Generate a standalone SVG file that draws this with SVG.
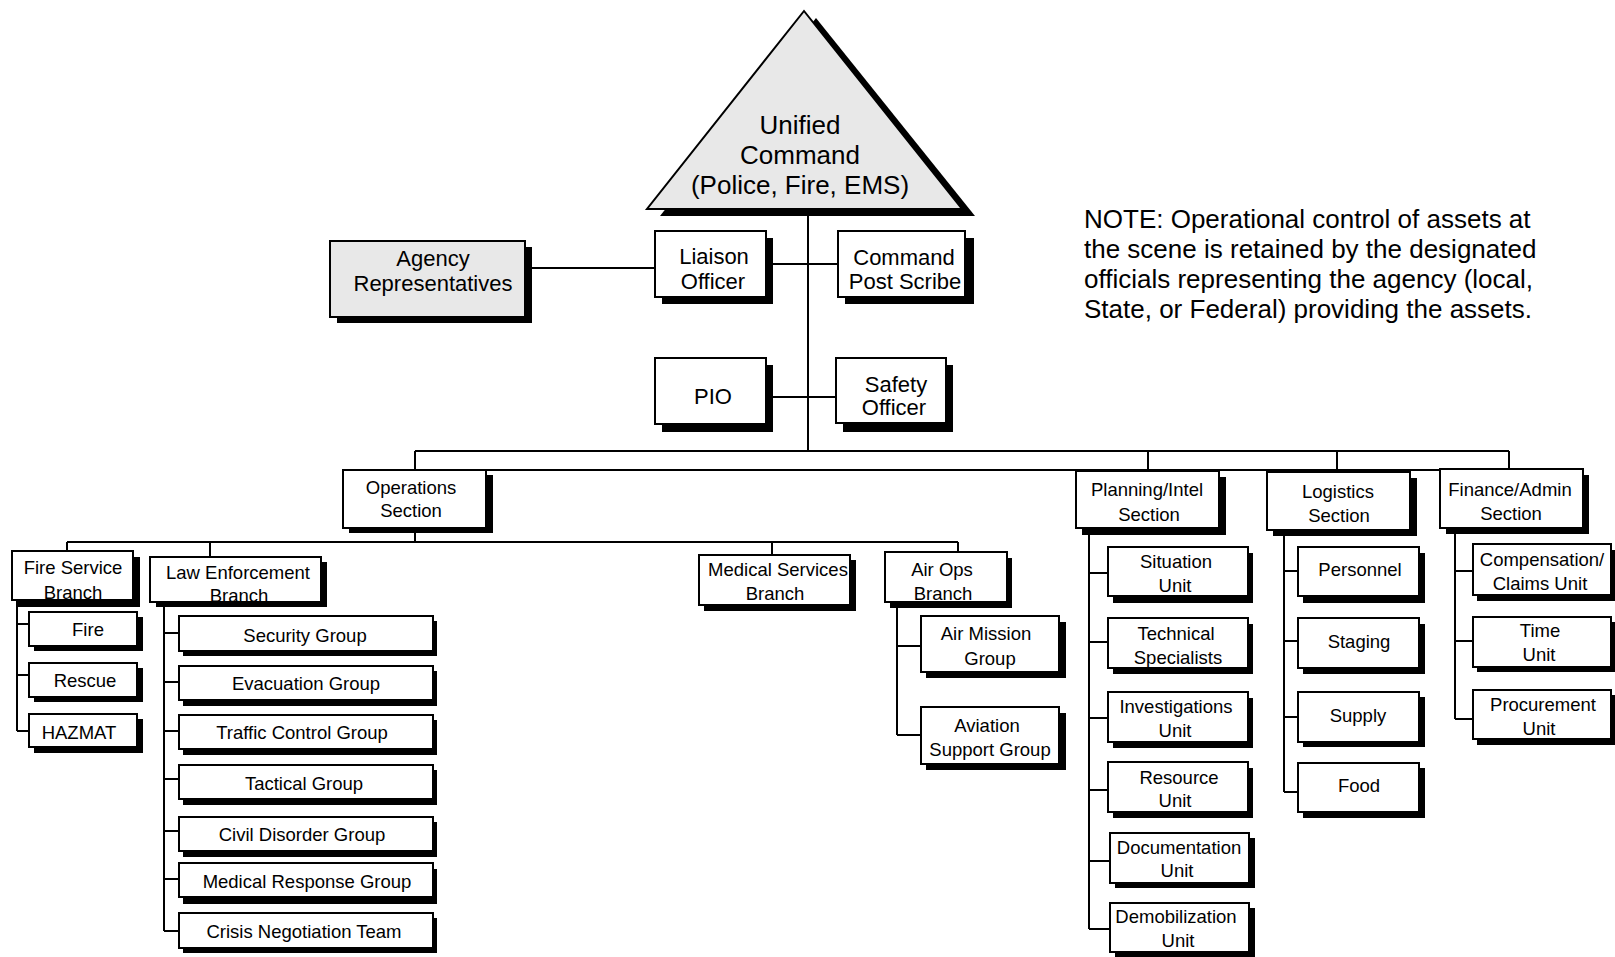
<svg xmlns="http://www.w3.org/2000/svg" width="1615" height="957" viewBox="0 0 1615 957">
<style>
text{font-family:"Liberation Sans",Arial,sans-serif;fill:#000;text-anchor:middle}
.t26{font-size:26px}
.t22{font-size:22px}
.t18{font-size:18.5px}
.note{font-size:26px;text-anchor:start}
.sh{fill:#000}
.bx{fill:#fff;stroke:#000;stroke-width:2}
.gbx{fill:#e8e8e8;stroke:#000;stroke-width:2}
.ln{fill:none;stroke:#000;stroke-width:2}
</style>
<rect width="1615" height="957" fill="#fff"/>
<g id="connectors">
<path class="ln" d="M808 209V451M415 451H1509M415 451V470M1148 451V471M1337 451V472M1509 451V470M486 470H1440"/>
<path class="ln" d="M525 268H655M766 264H838M766 397H836"/>
<path class="ln" d="M415 528V542M67 542H958M67 542V551M210 542V557M772 542V555M958 542V552"/>
<path class="ln" d="M17 600V731M17 624H29M17 675H29M17 731H29"/>
<path class="ln" d="M164 602V931M164 633H179M164 682H179M164 731H179M164 779H179M164 831H179M164 879H179M164 931H179"/>
<path class="ln" d="M897 602V735M897 646H921M897 735H921"/>
<path class="ln" d="M1089 528V929M1089 573H1108M1089 642H1108M1089 718H1108M1089 790H1108M1089 861H1110M1089 929H1110"/>
<path class="ln" d="M1284 530V792M1284 571H1298M1284 641H1298M1284 717H1298M1284 792H1298"/>
<path class="ln" d="M1455 528V719M1455 571H1473M1455 641H1473M1455 719H1473"/>
</g>
<g id="unified-command">
<polygon class="sh" points="816,18 660,216 975,216"/>
<polygon class="gbx" points="804,11 647,209 962,209"/>
<text class="t26" x="800" y="134">Unified</text>
<text class="t26" x="800" y="164">Command</text>
<text class="t26" x="800" y="194">(Police, Fire, EMS)</text>
</g>
<g id="note">
<text class="note" x="1084" y="228">NOTE: Operational control of assets at</text>
<text class="note" x="1084" y="258">the scene is retained by the designated</text>
<text class="note" x="1084" y="288">officials representing the agency (local,</text>
<text class="note" x="1084" y="318">State, or Federal) providing the assets.</text>
</g>
<g id="agency-representatives">
<rect class="sh" x="337" y="247" width="195" height="76"/>
<rect class="gbx" x="330" y="241" width="195" height="76"/>
<text class="t22" x="433" y="266">Agency</text>
<text class="t22" x="433" y="291">Representatives</text>
</g>
<g id="liaison-officer">
<rect class="sh" x="662" y="238" width="111" height="66"/>
<rect class="bx" x="655" y="231" width="111" height="66"/>
<text class="t22" x="714" y="264">Liaison</text>
<text class="t22" x="713" y="289">Officer</text>
</g>
<g id="command-post-scribe">
<rect class="sh" x="845" y="238" width="129" height="66"/>
<rect class="bx" x="838" y="231" width="127" height="66"/>
<text class="t22" x="904" y="265">Command</text>
<text class="t22" x="905" y="289">Post Scribe</text>
</g>
<g id="pio">
<rect class="sh" x="662" y="365" width="111" height="67"/>
<rect class="bx" x="655" y="358" width="111" height="66"/>
<text class="t22" x="713" y="404">PIO</text>
</g>
<g id="safety-officer">
<rect class="sh" x="843" y="365" width="110" height="67"/>
<rect class="bx" x="836" y="358" width="110" height="65"/>
<text class="t22" x="896" y="392">Safety</text>
<text class="t22" x="894" y="415">Officer</text>
</g>
<g id="operations-section">
<rect class="sh" x="349" y="475" width="144" height="58"/>
<rect class="bx" x="343" y="470" width="143" height="58"/>
<text class="t18" x="411" y="494">Operations</text>
<text class="t18" x="411" y="517">Section</text>
</g>
<g id="planning-intel-section">
<rect class="sh" x="1082" y="477" width="144" height="58"/>
<rect class="bx" x="1076" y="471" width="143" height="57"/>
<text class="t18" x="1147" y="496">Planning/Intel</text>
<text class="t18" x="1149" y="521">Section</text>
</g>
<g id="logistics-section">
<rect class="sh" x="1273" y="478" width="144" height="58"/>
<rect class="bx" x="1267" y="472" width="143" height="58"/>
<text class="t18" x="1338" y="498">Logistics</text>
<text class="t18" x="1339" y="522">Section</text>
</g>
<g id="finance-admin-section">
<rect class="sh" x="1446" y="475" width="143" height="59"/>
<rect class="bx" x="1440" y="469" width="143" height="59"/>
<text class="t18" x="1510" y="496">Finance/Admin</text>
<text class="t18" x="1511" y="520">Section</text>
</g>
<g id="fire-service-branch">
<rect class="sh" x="17" y="557" width="123" height="50"/>
<rect class="bx" x="12" y="551" width="121" height="49"/>
<text class="t18" x="73" y="574">Fire Service</text>
<text class="t18" x="73" y="599">Branch</text>
</g>
<g id="law-enforcement-branch">
<rect class="sh" x="156" y="562" width="171" height="45"/>
<rect class="bx" x="150" y="557" width="171" height="45"/>
<text class="t18" x="238" y="579">Law Enforcement</text>
<text class="t18" x="239" y="602">Branch</text>
</g>
<g id="medical-services-branch">
<rect class="sh" x="704" y="560" width="152" height="51"/>
<rect class="bx" x="699" y="555" width="151" height="50"/>
<text class="t18" x="778" y="576">Medical Services</text>
<text class="t18" x="775" y="600">Branch</text>
</g>
<g id="air-ops-branch">
<rect class="sh" x="890" y="558" width="122" height="50"/>
<rect class="bx" x="885" y="552" width="122" height="50"/>
<text class="t18" x="942" y="576">Air Ops</text>
<text class="t18" x="943" y="600">Branch</text>
</g>
<g id="fire">
<rect class="sh" x="34" y="617" width="109" height="34"/>
<rect class="bx" x="29" y="612" width="108" height="34"/>
<text class="t18" x="88" y="636">Fire</text>
</g>
<g id="rescue">
<rect class="sh" x="34" y="668" width="109" height="34"/>
<rect class="bx" x="29" y="663" width="108" height="34"/>
<text class="t18" x="85" y="687">Rescue</text>
</g>
<g id="hazmat">
<rect class="sh" x="34" y="719" width="109" height="34"/>
<rect class="bx" x="29" y="714" width="108" height="33"/>
<text class="t18" x="79" y="739">HAZMAT</text>
</g>
<g id="security-group">
<rect class="sh" x="183" y="621" width="254" height="35"/>
<rect class="bx" x="179" y="616" width="254" height="35"/>
<text class="t18" x="305" y="642">Security Group</text>
</g>
<g id="evacuation-group">
<rect class="sh" x="183" y="671" width="254" height="35"/>
<rect class="bx" x="179" y="666" width="254" height="34"/>
<text class="t18" x="306" y="690">Evacuation Group</text>
</g>
<g id="traffic-control-group">
<rect class="sh" x="183" y="720" width="254" height="35"/>
<rect class="bx" x="179" y="715" width="254" height="34"/>
<text class="t18" x="302" y="739">Traffic Control Group</text>
</g>
<g id="tactical-group">
<rect class="sh" x="183" y="770" width="254" height="35"/>
<rect class="bx" x="179" y="765" width="254" height="34"/>
<text class="t18" x="304" y="790">Tactical Group</text>
</g>
<g id="civil-disorder-group">
<rect class="sh" x="183" y="822" width="254" height="35"/>
<rect class="bx" x="179" y="817" width="254" height="34"/>
<text class="t18" x="302" y="841">Civil Disorder Group</text>
</g>
<g id="medical-response-group">
<rect class="sh" x="183" y="869" width="254" height="35"/>
<rect class="bx" x="179" y="863" width="254" height="34"/>
<text class="t18" x="307" y="888">Medical Response Group</text>
</g>
<g id="crisis-negotiation-team">
<rect class="sh" x="183" y="918" width="254" height="35"/>
<rect class="bx" x="179" y="913" width="254" height="35"/>
<text class="t18" x="304" y="938">Crisis Negotiation Team</text>
</g>
<g id="air-mission-group">
<rect class="sh" x="926" y="622" width="140" height="56"/>
<rect class="bx" x="921" y="616" width="138" height="56"/>
<text class="t18" x="986" y="640">Air Mission</text>
<text class="t18" x="990" y="665">Group</text>
</g>
<g id="aviation-support-group">
<rect class="sh" x="926" y="713" width="140" height="57"/>
<rect class="bx" x="921" y="707" width="138" height="57"/>
<text class="t18" x="987" y="732">Aviation</text>
<text class="t18" x="990" y="756">Support Group</text>
</g>
<g id="situation-unit">
<rect class="sh" x="1113" y="553" width="140" height="50"/>
<rect class="bx" x="1108" y="547" width="140" height="49"/>
<text class="t18" x="1176" y="568">Situation</text>
<text class="t18" x="1175" y="592">Unit</text>
</g>
<g id="technical-specialists">
<rect class="sh" x="1113" y="624" width="140" height="50"/>
<rect class="bx" x="1108" y="618" width="140" height="50"/>
<text class="t18" x="1176" y="640">Technical</text>
<text class="t18" x="1178" y="664">Specialists</text>
</g>
<g id="investigations-unit">
<rect class="sh" x="1113" y="698" width="140" height="50"/>
<rect class="bx" x="1108" y="692" width="140" height="50"/>
<text class="t18" x="1176" y="713">Investigations</text>
<text class="t18" x="1175" y="737">Unit</text>
</g>
<g id="resource-unit">
<rect class="sh" x="1113" y="768" width="140" height="50"/>
<rect class="bx" x="1108" y="762" width="140" height="50"/>
<text class="t18" x="1179" y="784">Resource</text>
<text class="t18" x="1175" y="807">Unit</text>
</g>
<g id="documentation-unit">
<rect class="sh" x="1115" y="838" width="140" height="50"/>
<rect class="bx" x="1110" y="833" width="139" height="50"/>
<text class="t18" x="1179" y="854">Documentation</text>
<text class="t18" x="1177" y="877">Unit</text>
</g>
<g id="demobilization-unit">
<rect class="sh" x="1115" y="908" width="140" height="50"/>
<rect class="bx" x="1110" y="903" width="139" height="49"/>
<text class="t18" x="1176" y="923">Demobilization</text>
<text class="t18" x="1178" y="947">Unit</text>
</g>
<g id="personnel">
<rect class="sh" x="1303" y="553" width="122" height="50"/>
<rect class="bx" x="1298" y="547" width="121" height="49"/>
<text class="t18" x="1360" y="576">Personnel</text>
</g>
<g id="staging">
<rect class="sh" x="1303" y="624" width="122" height="50"/>
<rect class="bx" x="1298" y="618" width="121" height="50"/>
<text class="t18" x="1359" y="648">Staging</text>
</g>
<g id="supply">
<rect class="sh" x="1303" y="697" width="122" height="50"/>
<rect class="bx" x="1298" y="692" width="121" height="50"/>
<text class="t18" x="1358" y="722">Supply</text>
</g>
<g id="food">
<rect class="sh" x="1303" y="768" width="122" height="50"/>
<rect class="bx" x="1298" y="763" width="121" height="49"/>
<text class="t18" x="1359" y="792">Food</text>
</g>
<g id="compensation-claims-unit">
<rect class="sh" x="1477" y="550" width="138" height="51"/>
<rect class="bx" x="1473" y="544" width="138" height="51"/>
<text class="t18" x="1542" y="566">Compensation/</text>
<text class="t18" x="1540" y="590">Claims Unit</text>
</g>
<g id="time-unit">
<rect class="sh" x="1477" y="622" width="138" height="50"/>
<rect class="bx" x="1473" y="617" width="138" height="50"/>
<text class="t18" x="1540" y="637">Time</text>
<text class="t18" x="1539" y="661">Unit</text>
</g>
<g id="procurement-unit">
<rect class="sh" x="1477" y="695" width="138" height="50"/>
<rect class="bx" x="1473" y="690" width="138" height="49"/>
<text class="t18" x="1543" y="711">Procurement</text>
<text class="t18" x="1539" y="735">Unit</text>
</g>
</svg>
